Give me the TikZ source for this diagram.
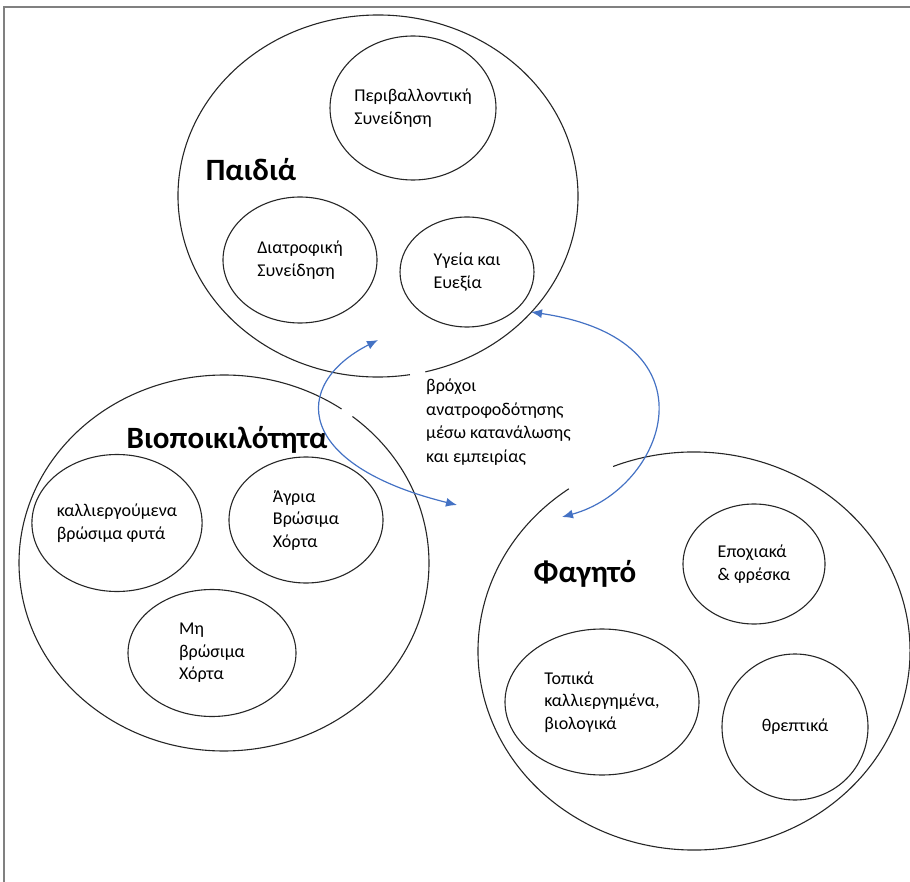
\documentclass[tikz,border=0pt]{standalone}
\usepackage{fontspec}
\setmainfont{Carlito}
\usetikzlibrary{positioning,arrows.meta,shapes.geometric}
\definecolor{loopblue}{RGB}{68,114,196}
\tikzset{
  >={Latex[length=11pt,width=9pt]},
  bigset/.style={
    ellipse,
    inner sep  = 0pt},
  setline/.style={
    draw       = black!85,
    line width = 1.1pt},
  subset/.style={
    draw       = black!85,
    ellipse,
    line width = 1.1pt,
    inner sep  = 0pt,
    align      = left,
    font       = \fontsize{18}{22.5}\selectfont},
  settitle/.style={
    inner sep = 0pt,
    font      = \fontsize{31}{36}\selectfont\bfseries},
  loopnote/.style={
    inner sep = 0pt,
    align     = left,
    font      = \fontsize{18}{23.5}\selectfont},
  loopline/.style={
    draw       = loopblue,
    line width = 1.2pt},
  frameline/.style={
    draw       = black!50,
    line width = 1.8pt}
}
% outline of a big set with an opening: node, x radius, y radius, from, to
\newcommand\openset[5]{%
  \draw[setline] (#1.center) ++(#4:#2 and #3)
    arc[start angle=#4, end angle=#5, x radius=#2, y radius=#3];}

\begin{document}
\begin{tikzpicture}[x=1pt, y=-1pt]
\useasboundingbox (0,0) rectangle (910,882);

\draw[frameline] (4,882) -- (4,7) -- (910,7);

% kids
\node[bigset, minimum width=400pt, minimum height=362pt] (kids) at (378,196) {};
\openset{kids}{200}{181}{80.8}{436.3}
\node[settitle] (kidstitle) at (251,170) {Παιδιά};
\node[subset, minimum width=164pt, minimum height=144pt] (envaware) at (413,108)
      {Περιβαλλοντική\\Συνείδηση};
\node[subset, minimum width=154pt, minimum height=126pt] (nutraware) at (300,260)
      {Διατροφική\\Συνείδηση};
\node[subset, minimum width=134pt, minimum height=110pt] (health) at (467,272)
      {Υγεία και\\Ευεξία};

% biodiversity
\node[bigset, minimum width=410pt, minimum height=376pt] (biodiv) at (224,563) {};
\openset{biodiv}{205}{188}{-51.2}{305}
\node[settitle] (biodivtitle) at (227,440) {Βιοποικιλότητα};
\node[subset, minimum width=168pt, minimum height=137pt] (cultivated) at (117,523)
      {καλλιεργούμενα\\βρώσιμα φυτά};
\node[subset, minimum width=154pt, minimum height=126pt] (wildgreens) at (306,520)
      {Άγρια\\Βρώσιμα\\Χόρτα};
\node[subset, minimum width=168pt, minimum height=127pt] (nonedible) at (212,653)
      {Μη\\βρώσιμα\\Χόρτα};

% food
\node[bigset, minimum width=432pt, minimum height=398pt] (food) at (694,651) {};
\openset{food}{216}{199}{-112}{234.6}
\node[settitle] (foodtitle) at (585,574) {Φαγητό};
\node[subset, minimum width=142pt, minimum height=120pt] (seasonal) at (754,564)
      {Εποχιακά\\\& φρέσκα};
\node[subset, minimum width=194pt, minimum height=146pt] (local) at (602,702)
      {Τοπικά\\καλλιεργημένα,\\βιολογικά};
\node[subset, minimum width=146pt, minimum height=146pt] (nutritious) at (795,727)
      {θρεπτικά};

% feedback loops
\node[loopnote, anchor=west] (loops) at (426,422)
      {βρόχοι\\ανατροφοδότησης\\μέσω κατανάλωσης\\και εμπειρίας};

\coordinate (kidsleft)  at (378,340);
\coordinate (biodivin)  at (457,505);
\coordinate (kidsright) at (531,312);
\coordinate (foodin)    at (562,517);

\draw[loopline, <->] (kidsleft) .. controls +(-88,45) and +(-162,-40) .. (biodivin);
\draw[loopline, <->] (kidsright) .. controls +(190,28) and +(103,-28) .. (foodin);

\end{tikzpicture}
\end{document}
